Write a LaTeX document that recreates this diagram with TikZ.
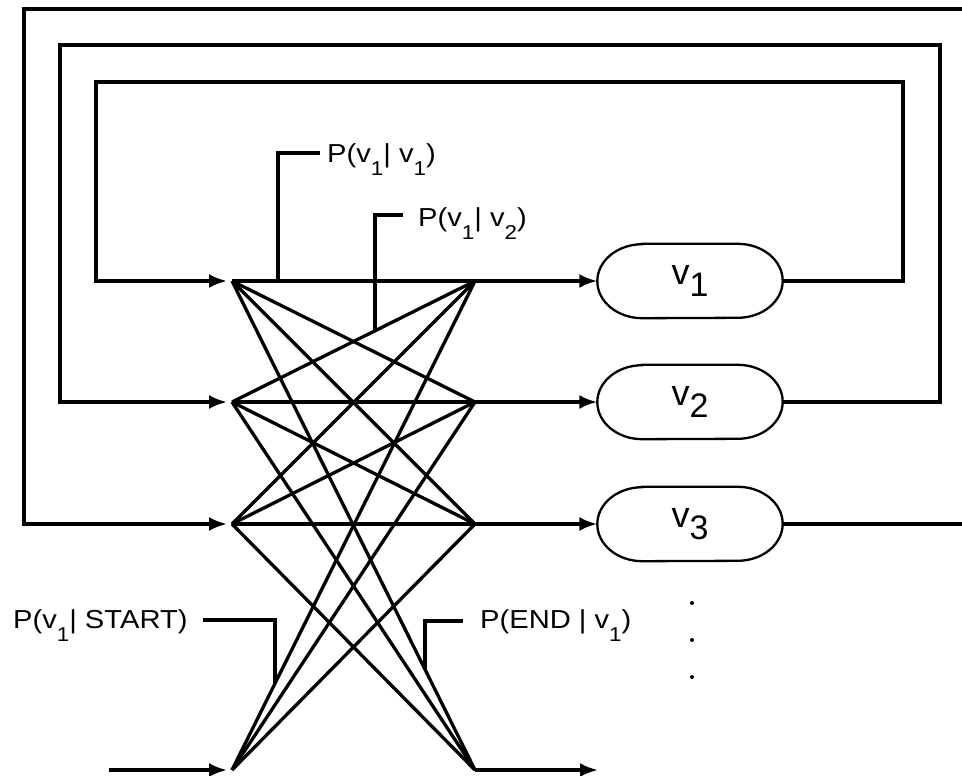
\documentclass[tikz,border=0pt]{standalone}
\usepackage{fontspec}
\setmainfont{Liberation Sans}
\usetikzlibrary{arrows.meta,calc}
\newcommand\lsub[1]{\raisebox{-13pt}{\fontsize{20}{20}\selectfont #1}}
\newcommand\vsub[1]{\raisebox{-12pt}{\fontsize{34}{34}\selectfont #1}}
\newcommand\capsuleshape[1]{\draw[capsule] ([xshift=45pt]#1.north west) -- ([xshift=-45pt]#1.north east) arc[start angle=90,end angle=-90,x radius=45pt,y radius=37pt] -- ([xshift=45pt]#1.south west) arc[start angle=270,end angle=90,x radius=45pt,y radius=37pt] -- cycle;}
\tikzset{
  conn/.style={line width=3.3pt},
  arr/.style={conn,-{Latex[length=18pt,width=14pt]}},
  lbl/.style={anchor=base west, inner sep=0pt, font=\fontsize{26}{30}\selectfont, xscale=1.12},
  state/.style={minimum width=185pt, minimum height=74pt, inner sep=0pt, font=\fontsize{36}{40}\selectfont},
  capsule/.style={line width=2.3pt},
  leader/.style={line width=3.3pt},
  dotmark/.style={fill=black, circle, inner sep=0pt, minimum size=4pt},
}
\begin{document}
\begin{tikzpicture}[x=1pt,y=-1pt]
\clip (0,0) rectangle (962,776);
% junction points
\coordinate (L1) at (232,281);
\coordinate (L2) at (232,402);
\coordinate (L3) at (232,524);
\coordinate (LS) at (232,770);
\coordinate (R1) at (475,281);
\coordinate (R2) at (475,402);
\coordinate (R3) at (475,524);
\coordinate (RE) at (475,770);
\coordinate (start) at (109,770);
\coordinate (endc) at (598,770);
% states
\node[state] (v1) at (690,281) {v\vsub{1}};
\node[state] (v2) at (690,402) {v\vsub{2}};
\node[state] (v3) at (690,524) {v\vsub{3}};
\capsuleshape{v1}
\capsuleshape{v2}
\capsuleshape{v3}
% feedback loops
\coordinate (b1r) at (903,82);
\coordinate (b1l) at (96,82);
\coordinate (b2r) at (940,45);
\coordinate (b2l) at (60,45);
\coordinate (b3r) at (990,9);
\coordinate (b3l) at (24,9);
\draw[arr] (v1.east) -| (b1r) -- (b1l) |- ([xshift=-5pt]L1);
\draw[arr] (v2.east) -| (b2r) -- (b2l) |- ([xshift=-5pt]L2);
\draw[arr] (v3.east) -| (b3r) -- (b3l) |- ([xshift=-5pt]L3);
% horizontal transitions and inputs to states
\foreach \i in {1,2,3}{
  \draw[conn] (L\i) -- (R\i);
  \draw[arr] (R\i) -- (v\i.west);
}
% crossing transitions
\foreach \i in {1,2,3}{
  \foreach \j in {1,2,3}{
    \ifnum\i=\j\else\draw[conn] (L\i) -- (R\j);\fi
  }
  \draw[conn] (LS) -- (R\i);
  \draw[conn] (L\i) -- (RE);
}
\draw[arr] (start) -- ([xshift=-5pt]LS);
\draw[arr] (RE) -- (endc);
% labels with leaders
\coordinate (k1) at ($(L1)!0.189!(R1)$);
\coordinate (c1) at (320,153);
\draw[leader] (k1) |- (c1);
\node[lbl] (t1) at (327,162) {P(v\lsub{1}| v\lsub{1})};
\coordinate (k2) at ($(L2)!0.588!(R1)$);
\coordinate (c2) at (403,215);
\draw[leader] (k2) |- (c2);
\node[lbl] (t2) at (418,226) {P(v\lsub{1}| v\lsub{2})};
\coordinate (k3) at ($(LS)!0.177!(R1)$);
\coordinate (c3) at (203,620);
\draw[leader] (c3) -| (k3);
\node[lbl] (t3) at (13,628) {P(v\lsub{1}| START)};
\coordinate (k4) at ($(L1)!0.794!(RE)$);
\coordinate (c4) at (463,621);
\draw[leader] (c4) -| (k4);
\node[lbl] (t4) at (480,628) {P(END | v\lsub{1})};
% continuation dots
\node[dotmark] (d1) at (692,603) {};
\node[dotmark] (d2) at (692,640) {};
\node[dotmark] (d3) at (692,677) {};
\end{tikzpicture}
\end{document}
